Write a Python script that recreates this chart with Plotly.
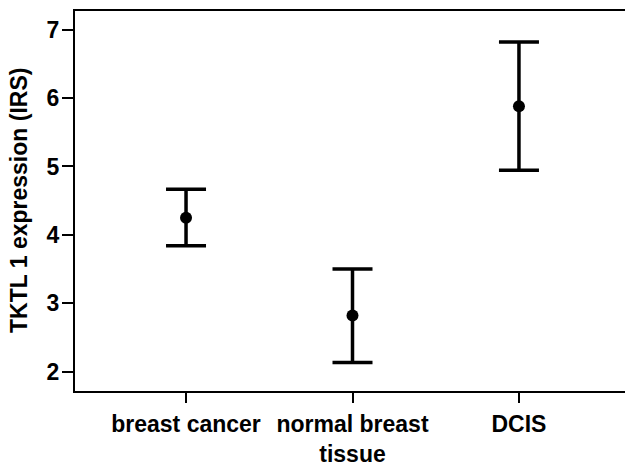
import plotly.graph_objects as go

categories = ["breast cancer", "normal breast<br>tissue", "DCIS"]
means = [4.25, 2.82, 5.88]
upper = [4.665, 3.50, 6.82]
lower = [3.84, 2.135, 4.945]
y_ticks = [2, 3, 4, 5, 6, 7]
y_title = "TKTL 1 expression (IRS)"

err_plus = [u - m for u, m in zip(upper, means)]
err_minus = [m - l for m, l in zip(means, lower)]

FONT = "Liberation Sans, Arial, sans-serif"

fig = go.Figure()
fig.add_trace(go.Scatter(
    x=categories, y=means, mode="markers",
    marker=dict(color="black", size=12),
    error_y=dict(type="data", symmetric=False, array=err_plus, arrayminus=err_minus,
                 color="black", thickness=3.5, width=20),
    showlegend=False,
))

fig.update_layout(
    width=625, height=467,
    margin=dict(l=75, r=0, t=11, b=69),
    paper_bgcolor="white", plot_bgcolor="white",
    font=dict(family=FONT, size=23, color="black"),
    xaxis=dict(
        type="category", range=[-0.667, 2.637],
        showline=True, linecolor="black", linewidth=2, mirror=True,
        ticks="outside", ticklen=10, tickwidth=2, tickcolor="black",
        showgrid=False, zeroline=False,
        tickfont=dict(family=FONT, size=23, color="black", weight="bold"),
        ticklabelstandoff=1,
    ),
    yaxis=dict(
        range=[1.717, 7.273], tickvals=y_ticks,
        showline=True, linecolor="black", linewidth=2, mirror=False,
        ticks="outside", ticklen=11, tickwidth=2, tickcolor="black",
        showgrid=False, zeroline=False,
        tickfont=dict(family=FONT, size=23, color="black", weight="bold"),
        ticklabelstandoff=-2,
    ),
    annotations=[dict(
        text=y_title, xref="paper", yref="paper",
        x=(19 - 75) / 550, y=0.5, xanchor="center", yanchor="middle",
        textangle=-90, showarrow=False,
        font=dict(family=FONT, size=23, color="black", weight="bold"),
    )],
)

fig.write_html(
    "out.html",
    post_script="document.body.style.margin='0';document.body.style.overflow='hidden';",
)
